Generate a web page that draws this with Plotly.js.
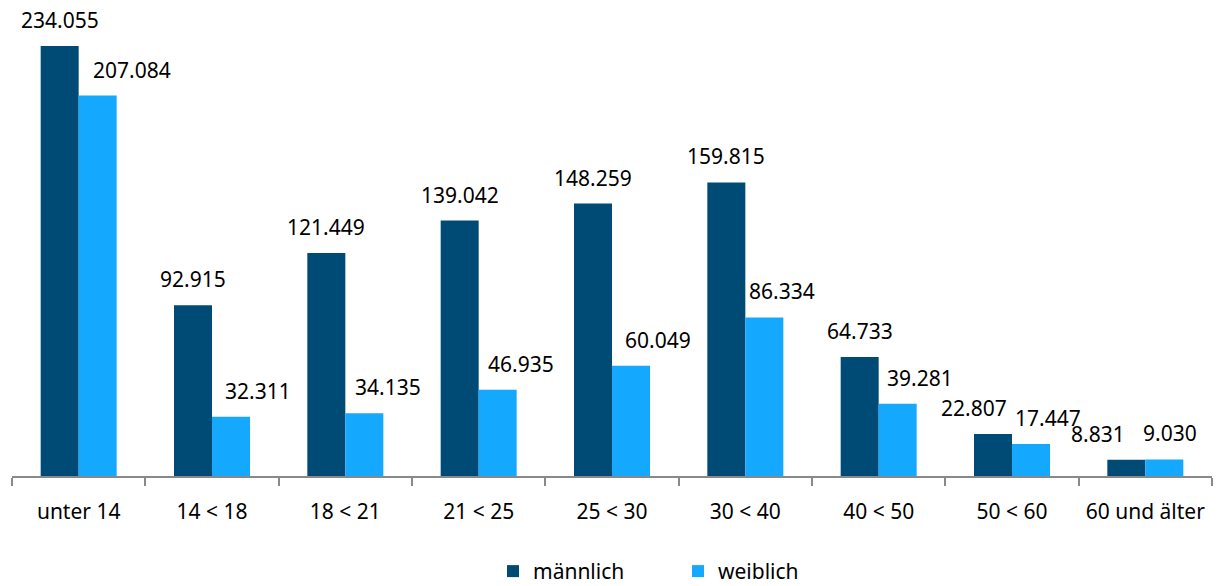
<!DOCTYPE html>
<html>
<head>
<meta charset="utf-8">
<script src="https://cdn.plot.ly/plotly-3.0.1.min.js"></script>
<style>html,body{margin:0;padding:0;background:#fff}#chart{width:1219px;height:586px}</style>
</head>
<body>
<div id="chart"></div>
<script>
const categories = ['unter 14', '14 < 18', '18 < 21', '21 < 25', '25 < 30', '30 < 40', '40 < 50', '50 < 60', '60 und älter'];
const maleValues = [234055, 92915, 121449, 139042, 148259, 159815, 64733, 22807, 8831];
const femaleValues = [207084, 32311, 34135, 46935, 60049, 86334, 39281, 17447, 9030];
const seriesNames = ['männlich', 'weiblich'];

// label nudges (pixels) to mimic the reference's label placement
const maleLabelNudge = [0, 0, 0, 0, 0, 0, 0, -19, -28];
const femaleLabelNudge = [34, 27, 24, 23, 27, 18, 22, 17, 6];

const darkBlue = '#004B76';
const lightBlue = '#14A8FF';
const FONT = 'Noto Sans, Open Sans, sans-serif';

function fmt(v) {
  const s = String(Math.round(v));
  return s.replace(/\B(?=(\d{3})+(?!\d))/g, '.');
}

const traces = [
  {type: 'bar', name: seriesNames[0], x: categories, y: maleValues,
   marker: {color: darkBlue, line: {width: 0}}, hoverinfo: 'none'},
  {type: 'bar', name: seriesNames[1], x: categories, y: femaleValues,
   marker: {color: lightBlue, line: {width: 0}}, hoverinfo: 'none'}
];

const annotations = [];
const barHalf = 19;
categories.forEach((c, i) => {
  annotations.push({x: c, y: maleValues[i], xref: 'x', yref: 'y', text: fmt(maleValues[i]),
    showarrow: false, yanchor: 'bottom', xanchor: 'center', xshift: -barHalf + maleLabelNudge[i], yshift: 10,
    font: {family: FONT, size: 21, color: '#000'}});
  annotations.push({x: c, y: femaleValues[i], xref: 'x', yref: 'y', text: fmt(femaleValues[i]),
    showarrow: false, yanchor: 'bottom', xanchor: 'center', xshift: barHalf + femaleLabelNudge[i], yshift: 10,
    font: {family: FONT, size: 21, color: '#000'}});
});

const layout = {
  width: 1219, height: 586,
  margin: {l: 12, r: 7, t: 46, b: 110, autoexpand: false},
  paper_bgcolor: '#fff', plot_bgcolor: '#fff',
  barmode: 'group', bargap: 0.43, bargroupgap: 0,
  font: {family: FONT, size: 21, color: '#000'},
  showlegend: true,
  legend: {orientation: 'h', x: 0.555, xanchor: 'center', y: -0.222, yanchor: 'middle',
    font: {family: FONT, size: 21, color: '#000'}, itemwidth: 30, entrywidth: 140,
    traceorder: 'normal', tracegroupgap: 0},
  xaxis: {type: 'category', automargin: false, showline: true, linecolor: '#898989', linewidth: 2,
    ticks: 'outside', tickson: 'boundaries', ticklen: 8, tickcolor: '#898989', tickwidth: 2,
    tickangle: 0, ticklabelstandoff: 16, showgrid: false, zeroline: false, fixedrange: true,
    tickfont: {family: FONT, size: 21, color: '#000'}},
  yaxis: {range: [0, 234055], visible: false, automargin: false, showgrid: false, zeroline: false, fixedrange: true},
  annotations: annotations
};

Plotly.newPlot('chart', traces, layout, {displayModeBar: false, staticPlot: true});
</script>
</body>
</html>
